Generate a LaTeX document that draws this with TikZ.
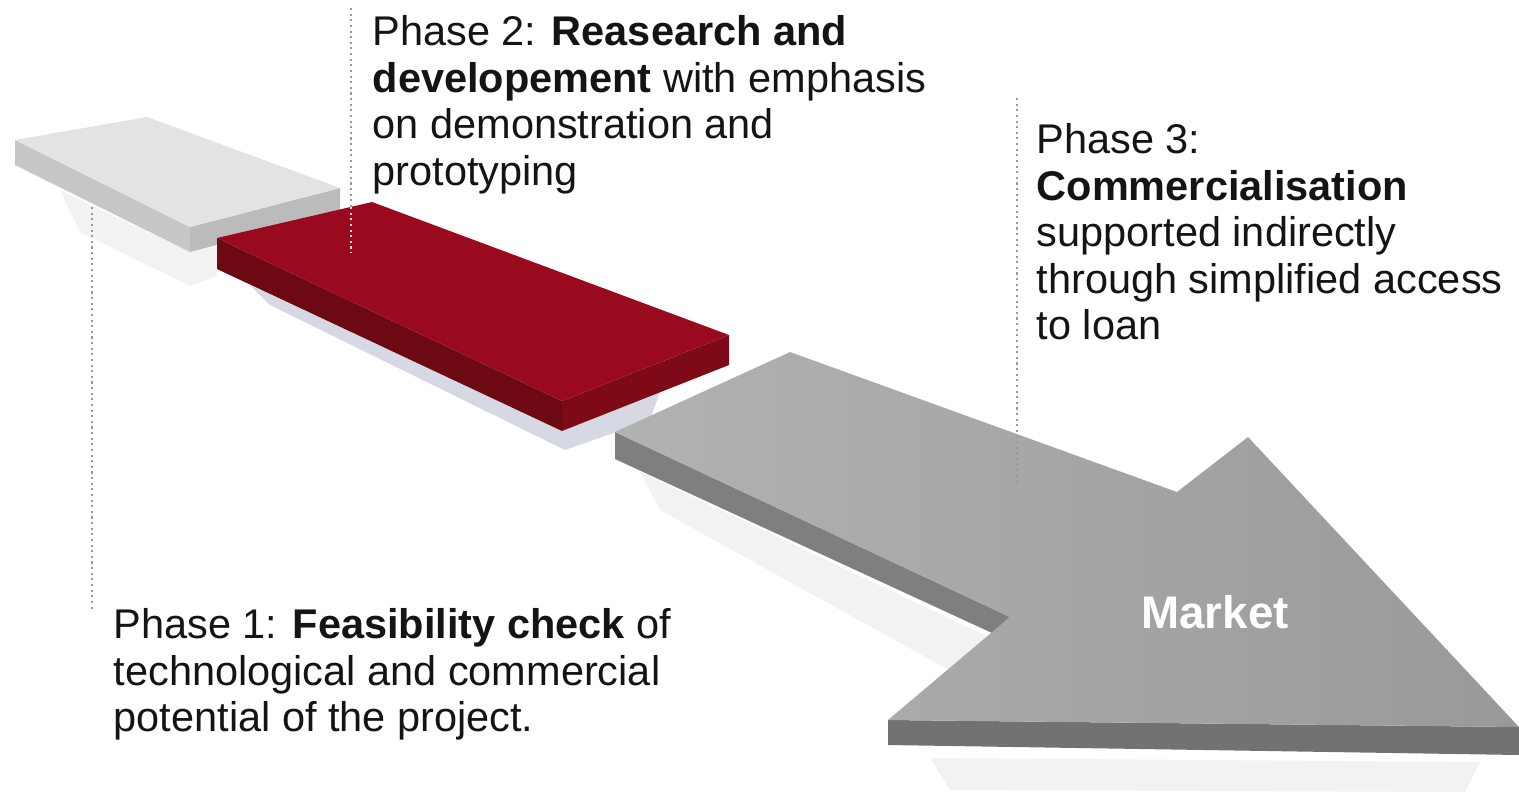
\documentclass[tikz,border=0pt]{standalone}
\usepackage{fontspec}
\setmainfont{Liberation Sans}
\usetikzlibrary{shapes,arrows,positioning}

\definecolor{slabtop}{HTML}{E3E3E3}
\definecolor{slabfront}{HTML}{C6C6C6}
\definecolor{slabside}{HTML}{BBBBBB}
\definecolor{redtop}{HTML}{9A0A1E}
\definecolor{redfront}{HTML}{6C0912}
\definecolor{redside}{HTML}{7E0A18}
\definecolor{arrowlight}{HTML}{B2B2B2}
\definecolor{arrowdark}{HTML}{999999}
\definecolor{arrowfront}{HTML}{7F7F7F}
\definecolor{shadowblue}{HTML}{D6D9E4}

\tikzset{
  phasetext/.style={anchor=north west, inner sep=0pt, align=left,
    font=\fontsize{11.8}{13.2}\selectfont, text=black!92},
  market/.style={inner sep=0pt, text=white, font=\fontsize{13}{15}\selectfont\bfseries},
  guide/.style={densely dotted, gray!80, line width=0.6pt},
  softshadow/.style={fill=gray!10},
}

\begin{document}
\begin{tikzpicture}[x=0.01cm, y=-0.01cm]
\useasboundingbox (0,0) rectangle (1519,797);

% Soft shadows under the blocks
\fill[softshadow] (60,190) -- (190,252) -- (217,246) -- (217,276) -- (190,286) -- (80,232) -- cycle;
\fill[softshadow] (640,472) -- (995,640) -- (985,690) -- (660,510) -- cycle;
\fill[softshadow] (930,758) -- (1480,762) -- (1465,792) -- (950,790) -- cycle;
\fill[shadowblue] (250,285) -- (562,431) -- (660,392) -- (650,420) -- (565,450) -- (270,305) -- cycle;

% Market arrow: side faces, then top face
\fill[arrowfront] (615,432) -- (1010,617) -- (992,633) -- (615,459) -- cycle;
\fill[arrowfront!90!black] (888,720) -- (1519,727) -- (1519,755) -- (888,745) -- cycle;
\shade[left color=arrowlight, right color=arrowdark]
  (790,352) -- (1177,492) -- (1248,437) -- (1519,727) -- (888,720) -- (1010,617) -- (615,432) -- cycle;

% Phase 1 block (light grey)
\fill[slabfront] (15,140) -- (190,227) -- (190,252) -- (15,165) -- cycle;
\fill[slabside] (190,227) -- (340,188) -- (340,213) -- (190,252) -- cycle;
\fill[slabtop] (15,140) -- (147,117) -- (340,188) -- (190,227) -- cycle;

% Phase 2 block (red)
\fill[redfront] (217,238) -- (562,401) -- (562,431) -- (217,269) -- cycle;
\fill[redside] (562,401) -- (729,335) -- (729,365) -- (562,431) -- cycle;
\fill[redtop] (217,238) -- (372,202) -- (729,335) -- (562,401) -- cycle;

% Guide lines
\coordinate (g1top) at (92,207);
\coordinate (g1bot) at (92,612);
\coordinate (g2top) at (351,8);
\coordinate (g2mid) at (351,207);
\coordinate (g2bot) at (351,253);
\coordinate (g3top) at (1017,98);
\coordinate (g3bot) at (1017,484);
\draw[guide] (g1top) -- (g1bot);
\draw[guide] (g2top) -- (g2mid);
\draw[guide, white!85!red] (g2mid) -- (g2bot);
\draw[guide] (g3top) -- (g3bot);

% Labels
\node[phasetext] (phase2) at (372,15) {Phase 2: \textbf{Reasearch and}\\
  \textbf{developement} with emphasis\\ on demonstration and\\ prototyping};
\node[phasetext] (phase3) at (1036,123) {Phase 3:\\ \textbf{Commercialisation}\\
  supported indirectly\\ through simplified access\\ to loan};
\node[phasetext] (phase1) at (113,608) {Phase 1: \textbf{Feasibility check} of\\
  technological and commercial\\ potential of the project.};
\node[market] (market) at (1215,612) {Market};
\end{tikzpicture}
\end{document}
